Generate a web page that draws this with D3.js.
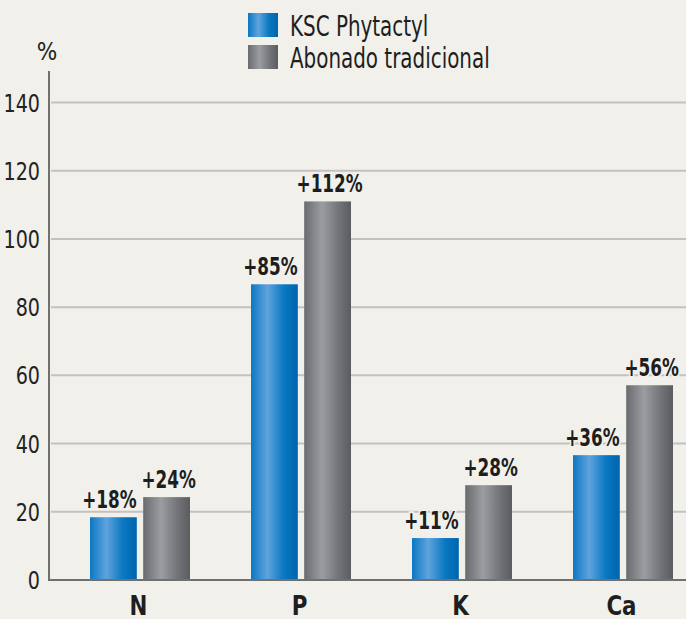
<!DOCTYPE html>
<html>
<head>
<meta charset="utf-8">
<script src="https://cdn.jsdelivr.net/npm/d3@7"></script>
<style>
  html, body { margin: 0; padding: 0; background: #f1f0eb; }
  svg { display: block; font-family: "DejaVu Sans Condensed", "Liberation Sans Narrow", sans-serif; }
</style>
</head>
<body>
<svg id="chart" width="686" height="619"></svg>
<script>
// data
var categories = ["N", "P", "K", "Ca"];
var seriesNames = ["KSC Phytactyl", "Abonado tradicional"];
var ksc = [18.4, 86.7, 12.3, 36.6];
var tradicional = [24.3, 111, 27.8, 57.1];
var kscLabels = ["+18%", "+85%", "+11%", "+36%"];
var tradLabels = ["+24%", "+112%", "+28%", "+56%"];
var yTicks = [0, 20, 40, 60, 80, 100, 120, 140];

var svg = d3.select("#chart");
var W = 686, H = 619;

var x = d3.scaleBand().domain(categories).range([59, 703]);
var xs = d3.scaleBand().domain(seriesNames).range([31, 131]).paddingInner(0.12);
var y = d3.scaleLinear().domain([0, 140]).range([580, 102.5]);

// squeeze text horizontally, the original uses a condensed face
function squeeze(sel, f) {
  sel.each(function(){
    var w = this.getComputedTextLength();
    d3.select(this).attr("textLength", w * f).attr("lengthAdjust", "spacingAndGlyphs");
  });
}

// gradients for the cylinder look
var defs = svg.append("defs");
function grad(id, stops) {
  var g = defs.append("linearGradient").attr("id", id)
    .attr("x1", "0%").attr("x2", "100%").attr("y1", "0%").attr("y2", "0%");
  stops.forEach(function(s){ g.append("stop").attr("offset", s[0]).attr("stop-color", s[1]); });
}
grad("gBlue", [["0%", "#0b78c3"], ["35%", "#5fa3dc"], ["70%", "#0a78c2"], ["100%", "#0064ae"]]);
grad("gGrey", [["0%", "#6a6b6f"], ["38%", "#9c9da1"], ["75%", "#717276"], ["100%", "#5b5c60"]]);
var fills = ["url(#gBlue)", "url(#gGrey)"];

// gridlines
svg.append("g").selectAll("line").data(yTicks.slice(1)).enter().append("line")
  .attr("x1", 51).attr("x2", W)
  .attr("y1", function(d){ return y(d); }).attr("y2", function(d){ return y(d); })
  .attr("stroke", "#c2c2c2").attr("stroke-width", 2);

// y tick labels
var tl = svg.append("g").selectAll("text").data(yTicks).enter().append("text")
  .attr("x", 40).attr("y", function(d){ return y(d) + 9; })
  .attr("text-anchor", "end")
  .attr("font-size", 25).attr("fill", "#222")
  .text(function(d){ return d; });
squeeze(tl, 0.85);

svg.append("text").attr("x", 47).attr("y", 60).attr("text-anchor", "middle")
  .attr("font-size", 24).attr("fill", "#222").text("%");

// bars
var rows = categories.map(function(c, i){
  return [
    {cat: c, s: 0, v: ksc[i], label: kscLabels[i]},
    {cat: c, s: 1, v: tradicional[i], label: tradLabels[i]}
  ];
});
var flat = d3.merge(rows);

svg.append("g").selectAll("rect").data(flat).enter().append("rect")
  .attr("x", function(d){ return x(d.cat) + xs(seriesNames[d.s]); })
  .attr("width", xs.bandwidth())
  .attr("y", function(d){ return y(d.v); })
  .attr("height", function(d){ return y(0) - y(d.v); })
  .attr("fill", function(d){ return fills[d.s]; });

// axes lines
svg.append("line").attr("x1", 49).attr("x2", 49).attr("y1", 71).attr("y2", 581)
  .attr("stroke", "#707070").attr("stroke-width", 2);
svg.append("line").attr("x1", 48).attr("x2", W).attr("y1", 580).attr("y2", 580)
  .attr("stroke", "#707070").attr("stroke-width", 2);

// value labels
var shift = [-4, 2];
var vl = svg.append("g").selectAll("text").data(flat).enter().append("text")
  .attr("x", function(d){ return x(d.cat) + xs(seriesNames[d.s]) + xs.bandwidth() / 2 + shift[d.s]; })
  .attr("y", function(d){ return y(d.v) - 9; })
  .attr("text-anchor", "middle")
  .attr("font-size", 24).attr("font-weight", "bold").attr("fill", "#1e1e1e")
  .attr("stroke", "#f1f0eb").attr("stroke-width", 4).attr("paint-order", "stroke")
  .text(function(d){ return d.label; });
squeeze(vl, 0.78);

// category labels
var cl = svg.append("g").selectAll("text").data(categories).enter().append("text")
  .attr("x", function(d){ return x(d) + x.bandwidth() / 2 - 1; })
  .attr("y", 615)
  .attr("text-anchor", "middle")
  .attr("font-size", 27).attr("font-weight", "bold").attr("fill", "#1e1e1e")
  .text(function(d){ return d; });
squeeze(cl, 0.88);

// legend
var lg = svg.append("g").attr("transform", "translate(248,13)");
seriesNames.forEach(function(n, i){
  lg.append("rect").attr("x", 0).attr("y", i * 32).attr("width", 30).attr("height", 24)
    .attr("fill", fills[i]);
  var t = lg.append("text").attr("x", 42).attr("y", i * 32 + 23)
    .attr("font-size", 28).attr("fill", "#1e1e1e").text(n);
  squeeze(t, 0.79);
});
</script>
</body>
</html>
